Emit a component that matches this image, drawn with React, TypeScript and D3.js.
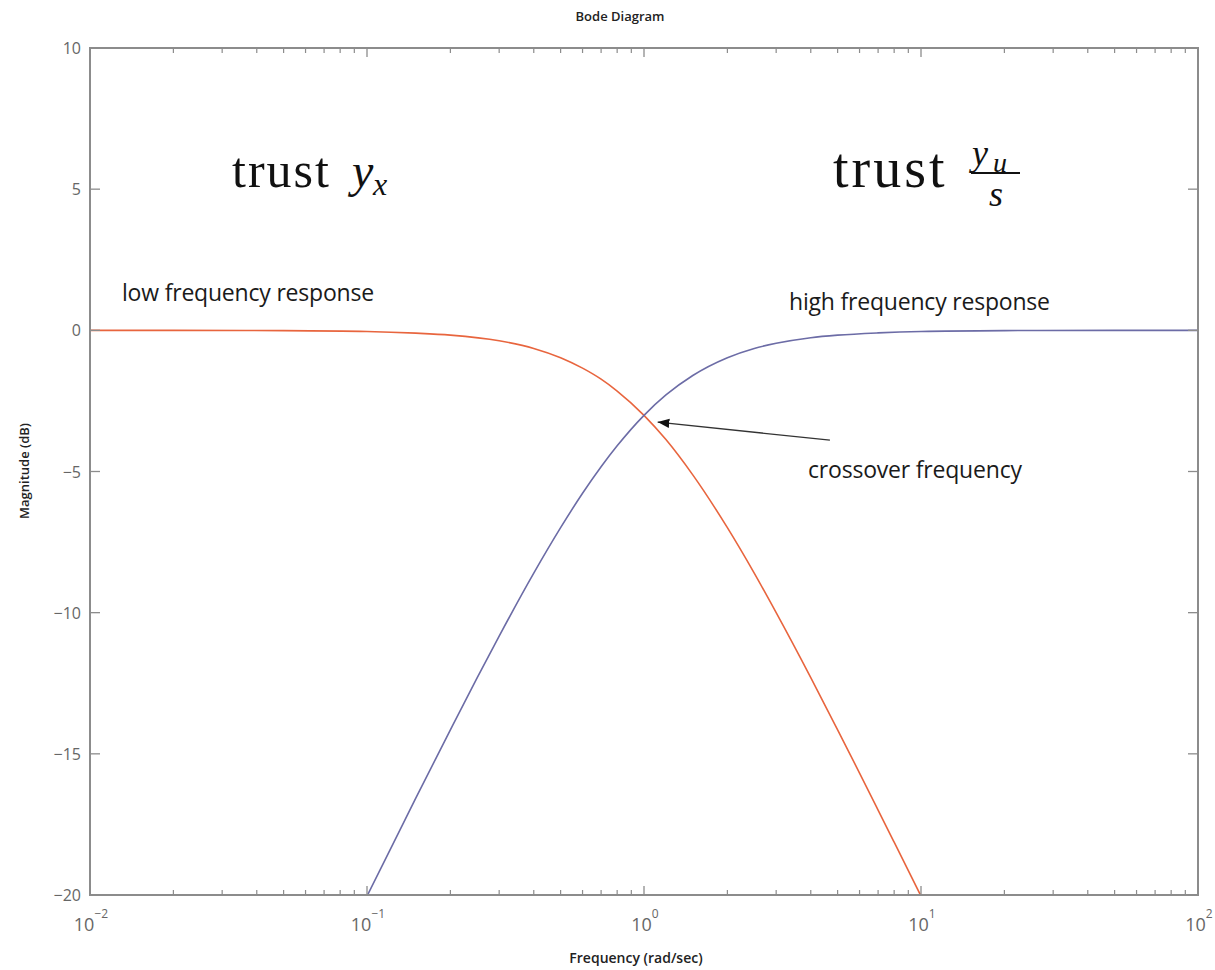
import React from "react";
import * as d3 from "d3";

// Frequencies (rad/sec) and magnitudes (dB) of the two complementary responses
const lowFreq = [0.01, 0.02, 0.05, 0.1, 0.15, 0.2, 0.3, 0.4, 0.5, 0.6, 0.7, 0.8, 1, 1.2, 1.5, 2, 2.5, 3, 4, 5, 6, 7, 8, 10];
const lowMag = [0, 0, -0.01, -0.04, -0.1, -0.17, -0.37, -0.64, -0.97, -1.34, -1.73, -2.15, -3.01, -3.87, -5.12, -6.99, -8.6, -10.0, -12.3, -14.15, -15.68, -16.99, -18.13, -20.04];

const highFreq = [0.1, 0.12, 0.15, 0.2, 0.25, 0.3, 0.4, 0.5, 0.6, 0.7, 0.8, 1, 1.2, 1.5, 2, 2.5, 3, 4, 5, 7, 10, 20, 50, 100];
const highMag = [-20.04, -18.48, -16.57, -14.15, -12.3, -10.83, -8.6, -6.99, -5.77, -4.83, -4.09, -3.01, -2.29, -1.6, -0.97, -0.64, -0.46, -0.26, -0.17, -0.09, -0.04, -0.01, 0, 0];

const yTicks = [-20, -15, -10, -5, 0, 5, 10];
const yTickLabels = ["\u221220", "\u221215", "\u221210", "\u22125", "0", "5", "10"];
const xDecades = [-2, -1, 0, 1, 2];

const W = 1215;
const H = 970;
const plot = { left: 90, top: 48, right: 1198, bottom: 895 };

const axisColor = "#8c8c8c";
const tickTextColor = "#666";
const lowColor = "#e8653e";
const highColor = "#6c6ca6";
const sans = "'Open Sans', 'DejaVu Sans', sans-serif";
const serif = "'Liberation Serif', 'DejaVu Serif', serif";

export default function App() {
  const x = d3.scaleLog().domain([0.01, 100]).range([plot.left, plot.right]);
  const y = d3.scaleLinear().domain([-20, 10]).range([plot.bottom, plot.top]);

  const line = d3
    .line<[number, number]>()
    .x((d) => x(d[0]))
    .y((d) => y(d[1]))
    .curve(d3.curveMonotoneX);

  const lowPath = line(lowFreq.map((f, i) => [f, lowMag[i]] as [number, number])) || "";
  const highPath = line(highFreq.map((f, i) => [f, highMag[i]] as [number, number])) || "";

  // minor ticks at 2..9 within each decade
  const minor: number[] = [];
  for (let e = -2; e < 2; e++) {
    for (let m = 2; m <= 9; m++) minor.push(m * Math.pow(10, e));
  }

  const arrowTip: [number, number] = [1.12, -3.25];
  const arrowTail: [number, number] = [4.69, -3.89];

  return (
    <svg
      width={W}
      height={H}
      style={{ position: "absolute", left: 0, top: 0, background: "#fff" }}
    >
      <defs>
        <clipPath id="plotClip">
          <rect x={plot.left} y={plot.top} width={plot.right - plot.left} height={plot.bottom - plot.top} />
        </clipPath>
        <marker id="arrowHead" viewBox="0 0 10 10" refX="10" refY="5" markerWidth="9" markerHeight="9" orient="auto">
          <path d="M0,1 L10,5 L0,9 Z" fill="#111" />
        </marker>
      </defs>

      {/* Title */}
      <text x={620} y={21} textAnchor="middle" fontFamily={sans} fontSize={13} fontWeight={600} fill="#222">
        Bode Diagram
      </text>

      {/* Curves */}
      <g clipPath="url(#plotClip)">
        <path d={lowPath} fill="none" stroke={lowColor} strokeWidth={1.6} />
        <path d={highPath} fill="none" stroke={highColor} strokeWidth={1.6} />
      </g>

      {/* Axes box */}
      <rect
        x={plot.left}
        y={plot.top}
        width={plot.right - plot.left}
        height={plot.bottom - plot.top}
        fill="none"
        stroke={axisColor}
        strokeWidth={2}
      />

      {/* X ticks */}
      {xDecades.map((e) => {
        const px = x(Math.pow(10, e));
        return (
          <g key={"xd" + e}>
            <line x1={px} x2={px} y1={plot.bottom} y2={plot.bottom - 9} stroke={axisColor} strokeWidth={1.3} />
            <line x1={px} x2={px} y1={plot.top} y2={plot.top + 9} stroke={axisColor} strokeWidth={1.3} />
            <text x={px + 1} y={931} textAnchor="middle" fontFamily={sans} fontSize={18} fill={tickTextColor}>
              <tspan>10</tspan>
              <tspan dy={-13} fontSize={12}>{e < 0 ? "\u2212" + Math.abs(e) : String(e)}</tspan>
            </text>
          </g>
        );
      })}
      {minor.map((v, i) => {
        const px = x(v);
        return (
          <g key={"xm" + i}>
            <line x1={px} x2={px} y1={plot.bottom} y2={plot.bottom - 5} stroke={axisColor} strokeWidth={1.2} />
            <line x1={px} x2={px} y1={plot.top} y2={plot.top + 5} stroke={axisColor} strokeWidth={1.2} />
          </g>
        );
      })}

      {/* Y ticks */}
      {yTicks.map((v, i) => {
        const py = y(v);
        return (
          <g key={"y" + v}>
            <line x1={plot.left} x2={plot.left + 10} y1={py} y2={py} stroke={axisColor} strokeWidth={1.3} />
            <line x1={plot.right} x2={plot.right - 10} y1={py} y2={py} stroke={axisColor} strokeWidth={1.3} />
            <text x={81} y={py + 6} textAnchor="end" fontFamily={sans} fontSize={16} fill={tickTextColor}>
              {yTickLabels[i]}
            </text>
          </g>
        );
      })}

      {/* Axis labels */}
      <text x={636} y={963} textAnchor="middle" fontFamily={sans} fontSize={14} fontWeight={600} fill="#222">
        Frequency  (rad/sec)
      </text>
      <text
        transform={`translate(29, 471) rotate(-90)`}
        textAnchor="middle"
        fontFamily={sans}
        fontSize={13}
        fontWeight={600}
        fill="#222"
      >
        Magnitude (dB)
      </text>

      {/* Curve annotations */}
      <text x={122} y={301} fontFamily={sans} fontSize={23} fill="#1a1a1a" letterSpacing={-0.2}>
        low frequency response
      </text>
      <text x={789} y={310} fontFamily={sans} fontSize={23} fill="#1a1a1a" letterSpacing={-0.2}>
        high frequency response
      </text>
      <text x={808} y={478} fontFamily={sans} fontSize={23} fill="#1a1a1a" letterSpacing={-0.2}>
        crossover frequency
      </text>
      <line
        x1={x(arrowTail[0])}
        y1={y(arrowTail[1])}
        x2={x(arrowTip[0])}
        y2={y(arrowTip[1])}
        stroke="#333"
        strokeWidth={1.3}
        markerEnd="url(#arrowHead)"
      />

      {/* trust y_x */}
      <text x={232} y={187} fontFamily={serif} fontSize={50} fill="#111" letterSpacing={2}>
        trust
      </text>
      <text x={352} y={187} fontFamily={serif} fontSize={48} fontStyle="italic" fill="#111">
        y
      </text>
      <text x={373} y={195} fontFamily={serif} fontSize={32} fontStyle="italic" fill="#111">
        x
      </text>

      {/* trust y_u / s */}
      <text x={833} y={187} fontFamily={serif} fontSize={56} fill="#111" letterSpacing={3}>
        trust
      </text>
      <text x={972} y={165} fontFamily={serif} fontSize={36} fontStyle="italic" fill="#111">
        y
      </text>
      <text x={993} y={172} fontFamily={serif} fontSize={28} fontStyle="italic" fill="#111">
        u
      </text>
      <line x1={971} x2={1020} y1={173} y2={173} stroke="#111" strokeWidth={2} />
      <text x={996} y={206} textAnchor="middle" fontFamily={serif} fontSize={36} fontStyle="italic" fill="#111">
        s
      </text>
    </svg>
  );
}
